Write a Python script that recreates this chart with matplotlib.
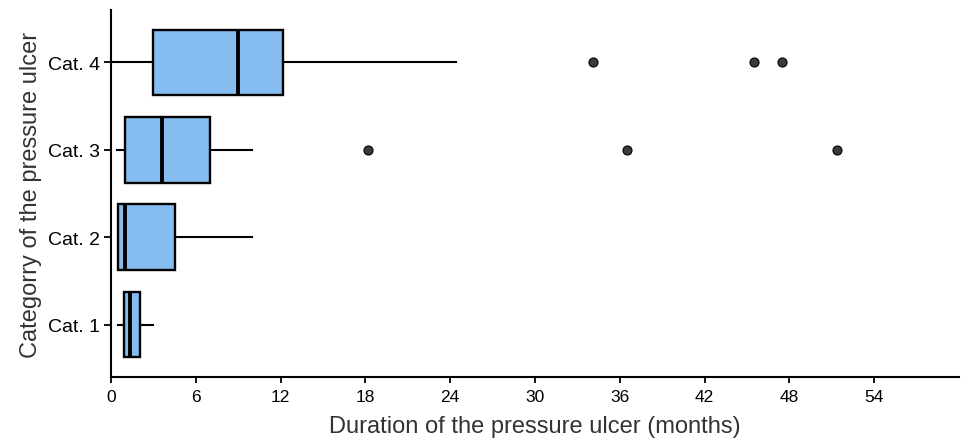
import matplotlib
matplotlib.use("Agg")
import matplotlib.pyplot as plt

plt.rcParams['font.family'] = ['Liberation Sans', 'DejaVu Sans']

# boxplot summary (months)
categories = ["Cat. 1", "Cat. 2", "Cat. 3", "Cat. 4"]
whisker_low = [0.5, 0.5, 0.4, 0.15]
q1 = [0.9, 0.5, 1.0, 3.0]
median = [1.35, 1.0, 3.6, 9.0]
q3 = [2.05, 4.5, 7.0, 12.2]
whisker_high = [2.95, 10.0, 10.0, 24.4]
outliers = [[], [], [18.2, 36.5, 51.4], [34.1, 45.5, 47.5]]

xticks = [0, 6, 12, 18, 24, 30, 36, 42, 48, 54]

stats = []
for i, cat in enumerate(categories):
    stats.append({
        "label": cat,
        "whislo": whisker_low[i],
        "q1": q1[i],
        "med": median[i],
        "q3": q3[i],
        "whishi": whisker_high[i],
        "fliers": outliers[i],
    })

fig = plt.figure(figsize=(9.64, 4.39), dpi=100)
ax = fig.add_axes([0.1151, 0.139, 0.8797, 0.836])

ax.bxp(stats, positions=[1, 2, 3, 4], vert=False, widths=0.75,
       showcaps=False, patch_artist=True,
       boxprops=dict(facecolor="#85bdf1", edgecolor="black", linewidth=1.7),
       medianprops=dict(color="black", linewidth=2.8),
       whiskerprops=dict(color="black", linewidth=1.5),
       flierprops=dict(marker="o", markerfacecolor="#3a3a3a",
                       markeredgecolor="black", markersize=6.5,
                       markeredgewidth=0.8))

ax.set_xlim(0, 60)
ax.set_ylim(0.4, 4.6)
ax.set_xticks(xticks)
ax.set_xticklabels([str(t) for t in xticks])
ax.set_yticks([1, 2, 3, 4])
ax.set_yticklabels(categories)

for side in ["top", "right"]:
    ax.spines[side].set_visible(False)
for side in ["left", "bottom"]:
    ax.spines[side].set_linewidth(1.5)
    ax.spines[side].set_color("black")

ax.tick_params(axis="x", labelsize=12.5, length=4.5, width=1.3, colors="black", pad=4)
ax.tick_params(axis="y", labelsize=14, length=5, width=1.3, colors="black", pad=3)

ax.set_xlabel("Duration of the pressure ulcer (months)", fontsize=17, color="#333333", labelpad=8)
ax.set_ylabel("Categorry of the pressure ulcer", fontsize=17, color="#333333", labelpad=4)

fig.savefig("out.png", dpi=100)
